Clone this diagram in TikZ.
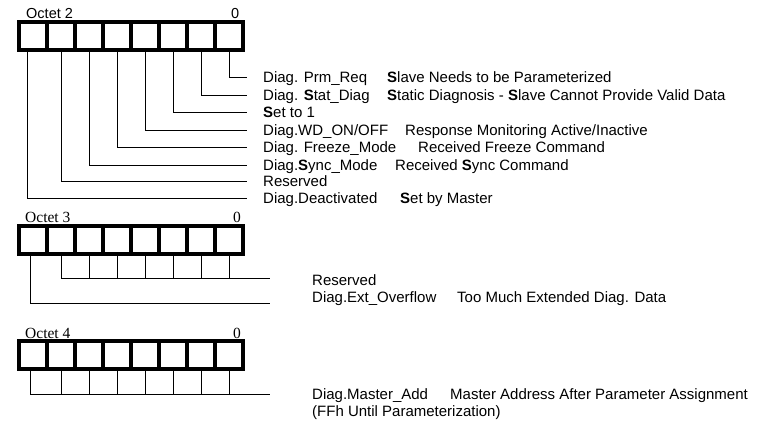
\documentclass[tikz,border=0pt]{standalone}
\usepackage{fontspec}
\usepackage{tikz}
\usetikzlibrary{positioning}
\newfontfamily\arialf{Liberation Sans}
\newfontfamily\timesf{Liberation Serif}

\begin{document}
\begin{tikzpicture}[
			x=1pt, y=-1pt,
			cell/.style={draw, line width=4pt, minimum width=28pt, minimum height=28pt, inner sep=0pt, outer sep=0pt},
			txt/.style={anchor=west, inner sep=0pt, text height=12pt, text depth=2pt, font=\arialf\fontsize{15}{17}\selectfont},
			octsans/.style={anchor=base west, inner sep=0pt, font=\arialf\fontsize{14.5}{16}\selectfont},
			octserif/.style={anchor=base west, inner sep=0pt, font=\timesf\fontsize{15.5}{17}\selectfont},
			wire/.style={line width=0.9pt},
			]
			\useasboundingbox (0,0) rectangle (775,426);
			
			%% ── Octet 2 ─────────────────────────────────────────────
			\node[octsans] (o2lbl) at (26,18) {Octet 2};
			\node[octsans] (o2zero) at (231,18) {0};
			\foreach \i in {0,...,7}
				\node[cell] (o2c\i) at ({229-28*\i},36) {};
			
			\node[txt, inner xsep=16pt] (d0) at (247,77)  {Diag. Prm\_Req};
			\node[txt, inner xsep=16pt] (d1) at (247,95)  {Diag. \textbf{S}tat\_Diag};
			\node[txt, inner xsep=16pt] (d2) at (247,112) {\textbf{S}et to 1};
			\node[txt, inner xsep=16pt] (d3) at (247,130) {Diag.WD\_ON/OFF};
			\node[txt, inner xsep=16pt] (d4) at (247,147) {Diag. Freeze\_Mode};
			\node[txt, inner xsep=16pt] (d5) at (247,165) {Diag.\textbf{S}ync\_Mode};
			\node[txt, inner xsep=16pt] (d6) at (247,181) {Reserved};
			\node[txt, inner xsep=16pt] (d7) at (247,198) {Diag.Deactivated};
			
			\node[txt] (e0) at (387,77)  {\textbf{S}lave Needs to be Parameterized};
			\node[txt] (e1) at (387,95)  {\textbf{S}tatic Diagnosis - \textbf{S}lave Cannot Provide Valid Data};
			\node[txt] (e3) at (405,130) {Response Monitoring Active/Inactive};
			\node[txt] (e4) at (418,147) {Received Freeze Command};
			\node[txt] (e5) at (395,165) {Received \textbf{S}ync Command};
			\node[txt] (e7) at (400,198) {\textbf{S}et by Master};
			
			\foreach \i in {0,...,6}
				\draw[wire] (o2c\i.south) |- (d\i.west);
			\draw[wire] ([xshift=-6pt]o2c7.south) |- (d7.west);
			
			%% ── Octet 3 ─────────────────────────────────────────────
			\node[octserif] (o3lbl) at (25,222) {Octet 3};
			\node[octserif] (o3zero) at (233,222) {0};
			\foreach \i in {0,...,7}
				\node[cell] (o3c\i) at ({229-28*\i},240) {};
			
			\coordinate (r3end) at (270,278);
			\coordinate (x3end) at (270,303);
			\node[txt] (r3) at (312,280) {Reserved};
			\node[txt] (x3) at (312,297) {Diag.Ext\_Overflow};
			\node[txt] (x3d) at (457,297) {Too Much Extended Diag. Data};
			
			\draw[wire] ([xshift=-3pt]o3c7.south) |- (x3end);
			\draw[wire] (o3c6.south) |- (r3end);
			\foreach \i in {0,...,5}
				\draw[wire] (o3c\i.south) -- (o3c\i.south |- r3end);
			
			%% ── Octet 4 ─────────────────────────────────────────────
			\node[octserif] (o4lbl) at (25,338) {Octet 4};
			\node[octserif] (o4zero) at (233,338) {0};
			\foreach \i in {0,...,7}
				\node[cell] (o4c\i) at ({229-28*\i},355) {};
			
			\coordinate (m4end) at (270,394);
			\node[txt] (m4) at (312,394) {Diag.Master\_Add};
			\node[txt] (m4d) at (450,394) {Master Address After Parameter Assignment};
			\node[txt] (f4) at (312,411) {(FFh Until Parameterization)};
			
			\draw[wire] ([xshift=-3pt]o4c7.south) |- (m4end);
			\foreach \i in {0,...,6}
				\draw[wire] (o4c\i.south) -- (o4c\i.south |- m4end);
			
		\end{tikzpicture}
\end{document}
